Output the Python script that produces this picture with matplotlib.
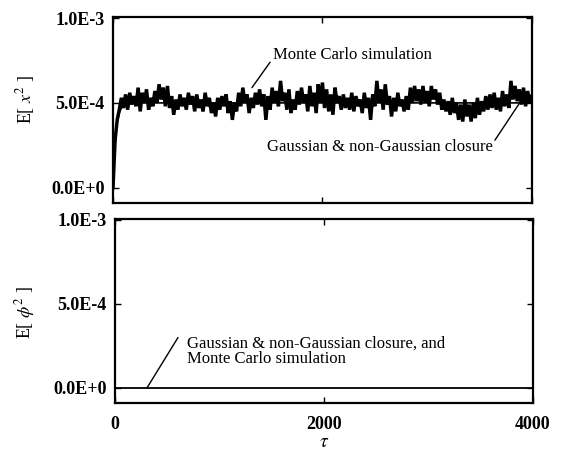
import numpy as np
import matplotlib
matplotlib.use("Agg")
import matplotlib.pyplot as plt

plt.rcParams['font.family'] = ['Liberation Serif', 'DejaVu Serif']
plt.rcParams['mathtext.fontset'] = 'stix'

# ---- data (values in units of 1e-4) ----
mc_tau_step = 20
mc_values = [
    0, 2.8, 4.0, 4.6, 5.3, 4.7, 5.5, 4.6, 5.6, 4.9,
    5.4, 4.8, 5.9, 4.5, 5.6, 5.0, 5.8, 4.6, 5.3, 4.8,
    5.7, 5.0, 6.1, 5.2, 5.9, 4.8, 6.0, 4.7, 5.4, 4.3,
    5.2, 4.6, 5.5, 4.8, 5.3, 4.6, 5.6, 4.9, 5.4, 4.5,
    5.5, 4.7, 5.2, 4.5, 5.6, 4.8, 5.3, 4.4, 5.0, 4.2,
    5.3, 4.6, 5.4, 4.8, 5.5, 4.4, 5.1, 4.0, 5.0, 4.5,
    5.6, 4.8, 5.9, 5.0, 5.5, 4.4, 5.3, 4.7, 5.6, 4.9,
    5.8, 4.8, 5.5, 4.0, 5.4, 4.6, 5.9, 5.0, 5.7, 4.8,
    6.3, 5.1, 5.6, 4.6, 5.8, 4.4, 5.2, 4.6, 5.7, 4.9,
    5.9, 5.0, 5.5, 4.5, 6.0, 4.8, 5.6, 4.4, 6.1, 5.0,
    6.2, 4.7, 5.8, 4.5, 5.5, 4.3, 5.9, 5.0, 5.4, 4.6,
    5.5, 4.7, 5.3, 4.6, 5.6, 4.5, 5.4, 4.8, 5.2, 4.4,
    5.6, 4.7, 5.3, 4.0, 5.5, 4.8, 6.3, 5.0, 5.8, 4.6,
    6.1, 4.9, 5.4, 4.2, 5.3, 4.5, 5.6, 4.8, 5.2, 4.5,
    5.4, 4.6, 5.9, 5.0, 6.0, 5.1, 5.8, 4.9, 6.0, 5.0,
    5.7, 4.8, 6.0, 5.2, 5.8, 4.9, 5.6, 4.6, 5.2, 4.5,
    5.1, 4.3, 5.3, 4.4, 5.0, 4.0, 4.9, 3.9, 5.2, 4.2,
    4.9, 3.9, 5.0, 4.1, 5.3, 4.3, 5.1, 4.5, 5.4, 4.6,
    5.5, 4.7, 5.6, 4.6, 5.3, 4.5, 5.7, 4.8, 5.5, 4.7,
    6.3, 5.2, 6.0, 5.1, 5.8, 4.9, 5.9, 4.8, 5.7, 5.0,
    5.4,
]
closure_tau = [0, 10, 20, 30, 40, 60, 80, 100, 150, 200, 4000]
closure_values = [0, 1.5, 2.6, 3.3, 3.8, 4.4, 4.7, 4.85, 4.97, 5.0, 5.0]
phi_tau = [0, 4000]
phi_values = [0, 0]
ytick_labels = ['0.0E+0', '5.0E-4', '1.0E-3']
xtick_labels = ['0', '2000', '4000']

scale = 1e-4
mc_tau = np.arange(len(mc_values)) * mc_tau_step
mc_y = np.array(mc_values) * scale
cl_y = np.array(closure_values) * scale
phi_y = np.array(phi_values) * scale

fig = plt.figure(figsize=(5.63, 4.5), dpi=100)
ax1 = fig.add_axes([0.2007, 0.549, 0.744, 0.413])
ax2 = fig.add_axes([0.2043, 0.1044, 0.742, 0.409])

ax1.plot(mc_tau, mc_y, color='black', lw=2.5, solid_joinstyle='miter')
ax1.plot(closure_tau, cl_y, color='black', lw=1.2)
ax2.plot(phi_tau, phi_y, color='black', lw=1.3)

for ax in (ax1, ax2):
    ax.set_xlim(0, 4000)
    ax.set_ylim(-0.09e-3, 1.006e-3)
    ax.set_yticks([0, 5e-4, 1e-3])
    ax.set_yticklabels(ytick_labels, fontweight='bold')
    ax.set_xticks([0, 2000, 4000])
    ax.tick_params(direction='in', length=4, width=1.0, top=True, right=True,
                   labelsize=13, pad=6)
    for s in ax.spines.values():
        s.set_linewidth(1.6)

ax1.tick_params(labelbottom=False)
ax2.set_xticklabels(xtick_labels, fontweight='bold')
ax2.tick_params(axis='x', pad=9)
ax2.set_xlabel(r'$\tau$', fontsize=14, labelpad=1)

fig.text(0.045, 1 - 100 / 450, r'E[ $x^2$ ]', rotation=90, ha='center', va='center', fontsize=13)
fig.text(0.045, 1 - 313 / 450, r'E[ $\phi^2$ ]', rotation=90, ha='center', va='center', fontsize=13)

# annotations
line_kw = dict(arrowstyle='-', color='black', lw=1.0, shrinkA=0, shrinkB=0)
txt_kw = dict(fontsize=12, va='center')
ax1.annotate('', xy=(1327, 5.9e-4), xytext=(1500, 7.4e-4), arrowprops=line_kw)
ax1.text(1530, 7.8e-4, 'Monte Carlo simulation', ha='left', **txt_kw)
ax1.annotate('', xy=(3905, 5.2e-4), xytext=(3647, 2.8e-4), arrowprops=line_kw)
ax1.text(3628, 2.4e-4, 'Gaussian & non-Gaussian closure', ha='right', **txt_kw)
ax2.annotate('', xy=(306, 0), xytext=(603, 3.0e-4), arrowprops=line_kw)
ax2.text(689, 2.65e-4, 'Gaussian & non-Gaussian closure, and', ha='left', **txt_kw)
ax2.text(689, 1.75e-4, 'Monte Carlo simulation', ha='left', **txt_kw)

fig.savefig('out.png', dpi=100)
